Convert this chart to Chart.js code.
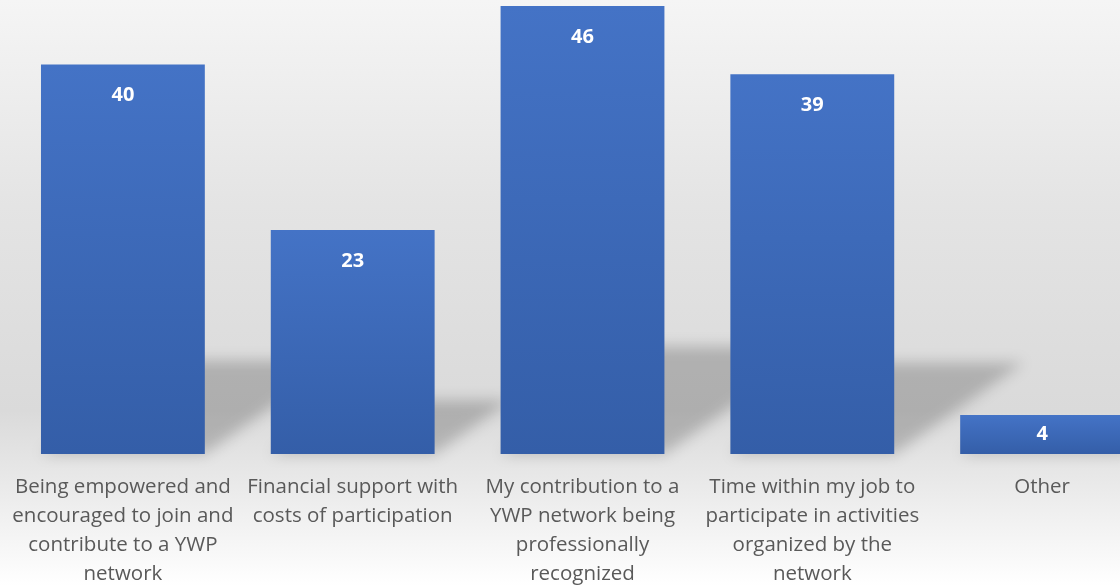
<!DOCTYPE html>
<html>
<head>
<meta charset="utf-8">
<script src="https://cdn.jsdelivr.net/npm/chart.js@4.4.1/dist/chart.umd.min.js"></script>
<style>
    html, body {
        margin: 0;
        padding: 0;
        overflow: hidden;
        width: 1120px;
        height: 586px;
        background: #f4f4f4;
    }
    #wrap {
        width: 1160px;
        height: 586px;
    }
</style>
</head>
<body>
<div id="wrap"><canvas id="supportChart" width="1160" height="586"></canvas></div>
<script>
const categories = [
    ["Being empowered and", "encouraged to join and", "contribute to a YWP", "network"],
    ["Financial support with", "costs of participation"],
    ["My contribution to a", "YWP network being", "professionally", "recognized"],
    ["Time within my job to", "participate in activities", "organized by the", "network"],
    ["Other"],
];
const responses = [40, 23, 46, 39, 4];

const FONT_FAMILY = "'Open Sans', 'DejaVu Sans', sans-serif";

// grey backdrop, darkest just above the baseline, near white at the bottom
const backdropPlugin = {
    id: "backdrop",
    beforeDraw(chart) {
        const { ctx, width, height } = chart;
        const grad = ctx.createLinearGradient(0, 0, 0, height);
        grad.addColorStop(0, "#f5f5f5");
        grad.addColorStop(0.35, "#e4e4e4");
        grad.addColorStop(0.7, "#dadada");
        grad.addColorStop(0.79, "#e5e5e5");
        grad.addColorStop(1, "#ffffff");
        ctx.save();
        ctx.fillStyle = grad;
        ctx.fillRect(0, 0, width, height);
        ctx.restore();
    },
};

// soft perspective shadows cast to the right of each bar
const shadowPlugin = {
    id: "barShadows",
    beforeDatasetsDraw(chart) {
        const { ctx } = chart;
        const meta = chart.getDatasetMeta(0);
        ctx.save();
        ctx.filter = "blur(7px)";
        ctx.fillStyle = "rgba(0, 0, 0, 0.2)";
        meta.data.forEach((bar) => {
            const h = bar.base - bar.y;
            const left = bar.x - bar.width / 2;
            const right = bar.x + bar.width / 2;
            const rise = h * 0.24;
            const skew = h * 0.34;
            ctx.beginPath();
            ctx.moveTo(left, bar.base);
            ctx.lineTo(right, bar.base);
            ctx.lineTo(right + skew, bar.base - rise);
            ctx.lineTo(left + skew, bar.base - rise);
            ctx.closePath();
            ctx.fill();
        });
        ctx.restore();
    },
};

// bold white value inside the top of each bar (centred when the bar is short)
const valueLabelPlugin = {
    id: "valueLabels",
    afterDatasetsDraw(chart) {
        const { ctx } = chart;
        const meta = chart.getDatasetMeta(0);
        ctx.save();
        ctx.fillStyle = "#ffffff";
        ctx.font = `bold 20px ${FONT_FAMILY}`;
        ctx.textAlign = "center";
        ctx.textBaseline = "middle";
        meta.data.forEach((bar, i) => {
            const y = Math.min(bar.y + 31, (bar.y + bar.base) / 2);
            ctx.fillText(String(responses[i]), bar.x, y);
        });
        ctx.restore();
    },
};

function barGradient(context) {
    const chart = context.chart;
    if (!chart.chartArea) {
        return "#4472c4";
    }
    const yScale = chart.scales.y;
    const top = yScale.getPixelForValue(context.raw);
    const bottom = yScale.getPixelForValue(0);
    const grad = chart.ctx.createLinearGradient(0, top, 0, bottom);
    grad.addColorStop(0, "#4473c6");
    grad.addColorStop(1, "#345ea8");
    return grad;
}

new Chart(document.getElementById("supportChart"), {
    type: "bar",
    data: {
        labels: categories,
        datasets: [
            {
                data: responses,
                backgroundColor: barGradient,
                borderWidth: 0,
                barPercentage: 0.713,
                categoryPercentage: 1,
            },
        ],
    },
    options: {
        responsive: false,
        animation: false,
        layout: {
            padding: { left: 8, right: 3, top: 6, bottom: 0 },
        },
        plugins: {
            legend: { display: false },
            tooltip: { enabled: false },
        },
        scales: {
            x: {
                grid: { display: false },
                border: { display: false },
                afterFit(axis) {
                    axis.height = 132;
                    axis.paddingLeft = 0;
                    axis.paddingRight = 0;
                },
                ticks: {
                    autoSkip: false,
                    maxRotation: 0,
                    padding: 11,
                    color: "#595959",
                    font: { family: FONT_FAMILY, size: 20.5, lineHeight: "29px" },
                },
            },
            y: {
                display: false,
                min: 0,
                max: 46,
            },
        },
    },
    plugins: [backdropPlugin, shadowPlugin, valueLabelPlugin],
});
</script>
</body>
</html>
